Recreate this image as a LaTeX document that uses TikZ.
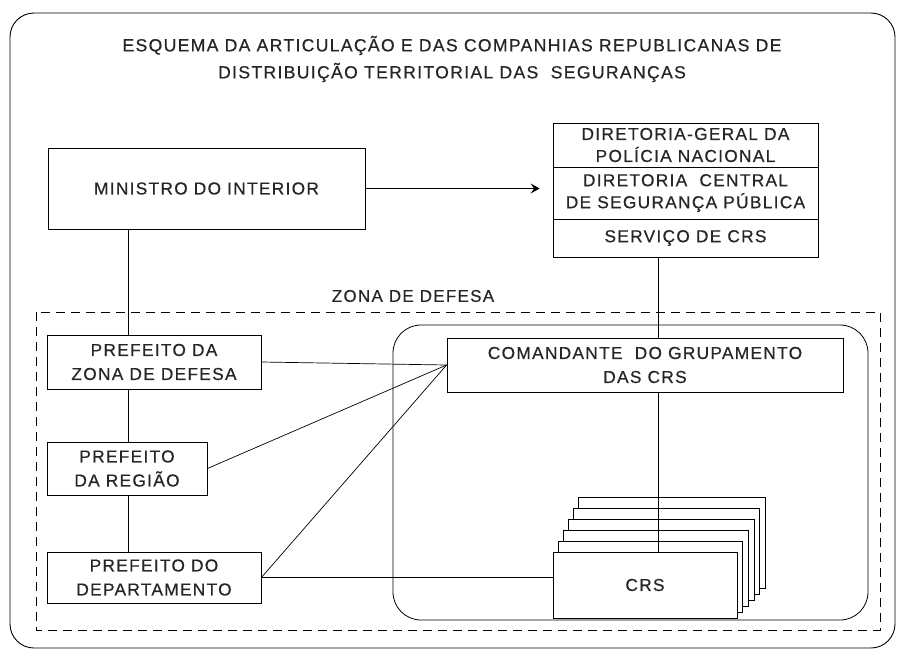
\documentclass[tikz,border=0pt]{standalone}
\usepackage{fontspec}
\setmainfont{Liberation Sans}[LetterSpace=7.5, FakeBold=0.5]
\usetikzlibrary{arrows.meta}
\begin{document}
\begin{tikzpicture}[x=1pt,y=-1pt,
  box/.style={draw, line width=0.8pt, fill=white, inner sep=2pt, align=center,
    font=\fontsize{17.3}{24}\selectfont, text=black!85},
  conn/.style={line width=0.7pt},
  lbl/.style={inner sep=0pt, align=center, text=black!85}]
\useasboundingbox (0,0) rectangle (908,654);
% outer frame
\draw[line width=0.9pt, rounded corners=24pt] (10,13) rectangle (895,648);
% title
\node[lbl, font=\fontsize{17.6}{27}\selectfont] (title) at (452,59)
  {ESQUEMA DA ARTICULAÇÃO E DAS COMPANHIAS REPUBLICANAS DE\\DISTRIBUIÇÃO TERRITORIAL DAS \ SEGURANÇAS};
% zone
\draw[line width=0.8pt, dash pattern=on 9pt off 6pt] (36,312) rectangle (880,630);
\node[lbl, font=\fontsize{17}{20}\selectfont] (zona) at (413,296) {ZONA DE DEFESA};
\draw[line width=0.8pt, rounded corners=28pt] (393,325) rectangle (868,620);
% coordinates for vertical lines
\coordinate (lx) at (128,0);
\coordinate (vx) at (658,0);
% boxes
\node[box, minimum width=317pt, minimum height=81pt] (min) at (206.5,188.5) {MINISTRO DO INTERIOR};
\node[box, minimum width=265pt, minimum height=44pt, font=\fontsize{17.3}{22}\selectfont] (dg) at (685.5,145) {DIRETORIA-GERAL DA\\POLÍCIA NACIONAL};
\node[box, minimum width=265pt, minimum height=52pt, font=\fontsize{17.3}{22}\selectfont] (dc) at (685.5,193) {DIRETORIA \ CENTRAL\\DE SEGURANÇA PÚBLICA};
\node[box, minimum width=265pt, minimum height=38pt] (sv) at (685.5,238) {SERVIÇO DE CRS};
\node[box, minimum width=214pt, minimum height=54pt] (pz) at (154,362) {PREFEITO DA\\ZONA DE DEFESA};
\node[box, minimum width=160pt, minimum height=53pt] (pr) at (127,468.5) {PREFEITO\\DA REGIÃO};
\node[box, minimum width=214pt, minimum height=51pt] (pd) at (154,577.5) {PREFEITO DO\\DEPARTAMENTO};
\node[box, minimum width=396pt, minimum height=54pt] (cmd) at (645,365) {COMANDANTE \ DO GRUPAMENTO\\DAS CRS};
% CRS stack
\foreach \k in {5,4,3,2,1} {
  \node[box, minimum width={184pt+0.7pt*\k}, minimum height={66pt+5pt*\k}] (crs\k) at ({645+5.35*\k},{585-8.5*\k}) {};
}
\node[box, minimum width=184pt, minimum height=66pt] (crs) at (645,585) {CRS};
% connectors
\draw[conn, -{Stealth[length=9pt,width=10pt,inset=3.5pt]}, shorten >=13pt] (min.east) -- (min.east -| dc.west);
\draw[conn] (min.south -| lx) -- (pz.north -| lx);
\draw[conn] (pz.south -| lx) -- (pr.north -| lx);
\draw[conn] (pr.south -| lx) -- (pd.north -| lx);
\draw[conn] (sv.south -| vx) -- (cmd.north -| vx);
\draw[conn] (cmd.south -| vx) -- (crs.north -| vx);
\draw[conn] (pz.east) -- (cmd.west);
\draw[conn] (pr.east) -- (cmd.west);
\draw[conn] (pd.east) -- (cmd.west);
\draw[conn] (pd.east) -- (pd.east -| crs.west);
\end{tikzpicture}
\end{document}
